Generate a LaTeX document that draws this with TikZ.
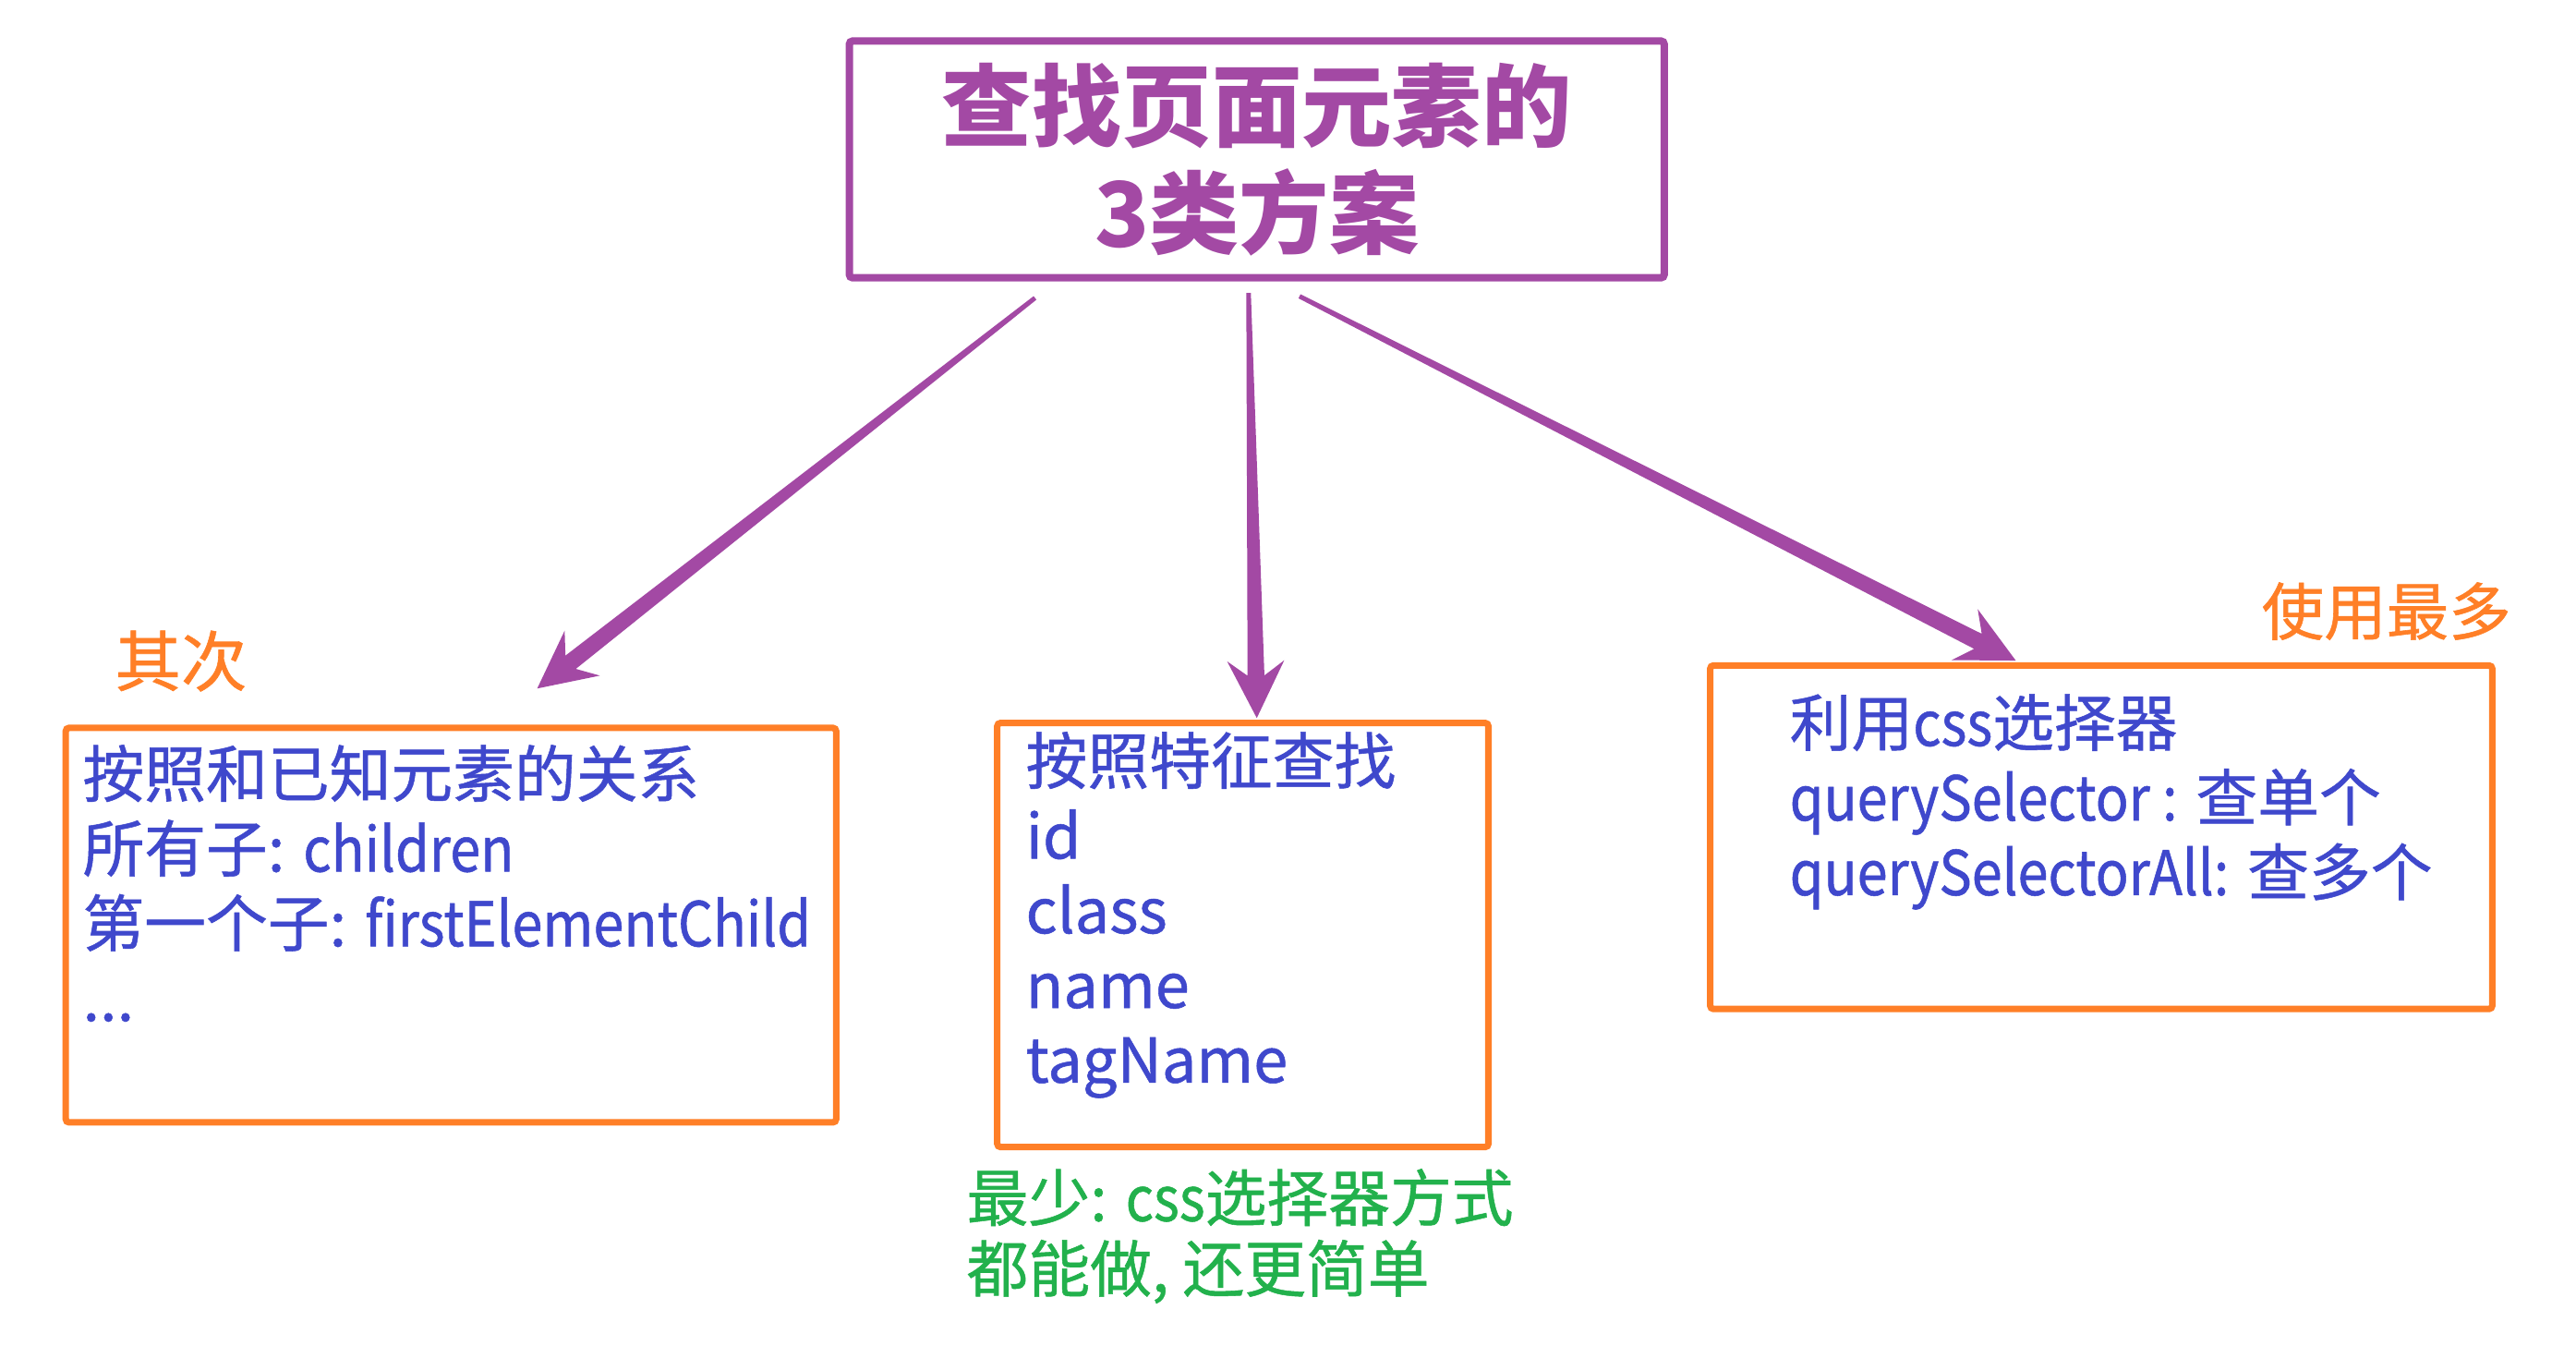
\documentclass[tikz,border=0pt]{standalone}
\usepackage{fontspec}
\setmainfont{Noto Sans CJK SC}
\newfontfamily\boxfont{Noto Sans CJK SC}[FakeBold=0.8]
\newfontfamily\latnfont{Noto Sans CJK SC}[FakeBold=0.8, FakeStretch=0.89]
\newcommand{\en}[1]{{\latnfont #1}}
\usetikzlibrary{arrows.meta, positioning, calc}

\definecolor{titlepurple}{HTML}{A349A4}
\definecolor{boxorange}{HTML}{FF7F27}
\definecolor{textblue}{HTML}{3F48CC}
\definecolor{notegreen}{HTML}{22B14C}

% tapered arrow: from #1 (thin end) to #2 (tip)
\newcommand{\fatarrow}[2]{%
  \path ($(#2)!0.46cm!(#1)$) coordinate (fa-j) ($(#2)!0.62cm!(#1)$) coordinate (fa-b);
  \fill[fatarrow] ($(#1)!0.7pt!90:(#2)$) -- ($(fa-j)!2.6pt!90:(#2)$) -- ($(fa-b)!8.8pt!90:(#2)$) -- (#2)
    -- ($(fa-b)!8.8pt!-90:(#2)$) -- ($(fa-j)!2.6pt!-90:(#2)$) -- ($(#1)!0.7pt!-90:(#2)$) -- cycle;
}

\tikzset{
  titlebox/.style = {draw=titlepurple, line width=2.3pt, rounded corners=1pt, text=titlepurple,
    minimum width=251pt, minimum height=72.9pt, align=center,
    font=\bfseries\fontsize{27.7}{33}\selectfont},
  groupbox/.style = {draw=boxorange, line width=2pt, rounded corners=1pt, inner sep=0pt},
  boxtext/.style = {text=textblue, inner sep=0pt, align=left, font=\boxfont\fontsize{19}{23}\selectfont},
  notetext/.style = {text=notegreen, inner sep=0pt, align=left, font=\boxfont\fontsize{19}{21.8}\selectfont},
  tagtext/.style = {text=boxorange, inner sep=0pt, font=\boxfont\fontsize{19.2}{22}\selectfont},
  fatarrow/.style = {fill=titlepurple}
}

\begin{document}
\begin{tikzpicture}[x=0.50607pt, y=-0.50607pt]
  \useasboundingbox (0,0) rectangle (1568,819);

  \node (title) [titlebox] at (765,97) {查找页面元素的\\3类方案};

  \node (lbox) [groupbox, minimum width=237.3pt, minimum height=121.5pt] at (274.5,563) {};
  \node (mbox) [groupbox, minimum width=151.3pt, minimum height=130.6pt] at (756.5,569) {};
  \node (rbox) [groupbox, minimum width=240.9pt, minimum height=105.8pt] at (1279,509.5) {};

  \node (ltext) [boxtext, below right=6pt and 6pt of lbox.north west]
    {按照和已知元素的关系\\所有子: \en{children}\\第一个子: \en{firstElementChild}\\...};
  \node (mtext) [boxtext, below right=3.5pt and 9.6pt of mbox.north west]
    {按照特征查找\\id\\class\\name\\tagName};
  \node (rtext) [boxtext, below right=9.6pt and 25.3pt of rbox.north west]
    {利用\en{css}选择器\\\en{querySelector :} 查单个\\\en{querySelectorAll:} 查多个};

  \node (mnote) [notetext, below right=5.5pt and -8.6pt of mbox.south west]
    {最少: \en{css}选择器方式\\都能做, 还更简单};
  \node (ltag) [tagtext, above right=10pt and 16pt of lbox.north west, font=\boxfont\fontsize{20.3}{22}\selectfont] {其次};
  \node (rtag) [tagtext, above left=6.6pt and -5pt of rbox.north east] {使用最多};

  \coordinate (lstart) at ($(title.south)+(-135,10)$);
  \coordinate (mstart) at ($(title.south)+(-5,7)$);
  \coordinate (rstart) at ($(title.south)+(26,9)$);
  \coordinate (ltip) at ($(lbox.north)+(52.5,-22)$);
  \coordinate (mtip) at ($(mbox.north)+(8.5,-1)$);
  \coordinate (rtip) at ($(rbox.north)+(-52,-1)$);

  \fatarrow{lstart}{ltip}
  \fatarrow{mstart}{mtip}
  \fatarrow{rstart}{rtip}
\end{tikzpicture}
\end{document}
